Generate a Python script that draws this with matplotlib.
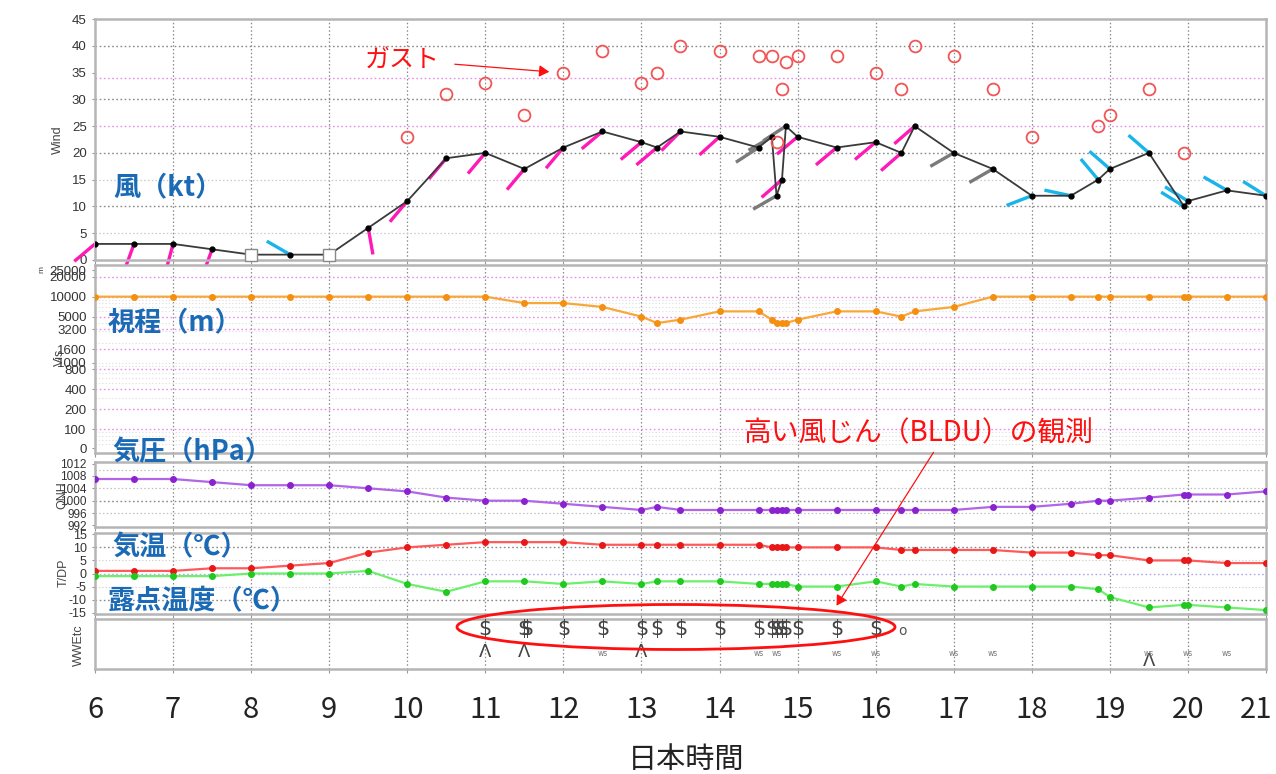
"""METAR time series: wind / visibility / QNH / T-Td / weather, 06-21 JST."""

import numpy as np
import matplotlib

matplotlib.use("Agg")
import matplotlib.pyplot as plt
from matplotlib.patches import Ellipse, FancyArrowPatch
from matplotlib.transforms import ScaledTranslation

plt.rcParams["font.family"] = ["Noto Sans CJK JP", "DejaVu Sans"]
plt.rcParams["axes.unicode_minus"] = False

# ---- observations (hour JST) ----
obs_t = [6, 6.5, 7, 7.5, 8, 8.5, 9, 9.5, 10,
         10.5, 11, 11.5, 12, 12.5, 13, 13.2, 13.5, 14,
         14.5, 14.67, 14.73, 14.8, 14.85, 15,
         15.5, 16, 16.33, 16.5, 17, 17.5, 18,
         18.5, 18.85, 19, 19.5, 19.95, 20, 20.5, 21]
wind_kt = [3, 3, 3, 2, 1, 1, 1, 6, 11,
           19, 20, 17, 21, 24, 22, 21, 24, 23,
           21, 23, 12, 15, 25, 23,
           21, 22, 20, 25, 20, 17, 12,
           12, 15, 17, 20, 10, 11, 13, 12]
# wind direction (deg); nan = calm / variable (open square)
wind_dir = [230, 200, 195, 200, np.nan, 300, np.nan, 170, 220,
            220, 220, 220, 220, 230, 230, 230, 225, 228,
            237, 240, 240, 229, 237, 230,
            230, 230, 229, 229, 240, 240, 249,
            282, 320, 311, 311, 302, 302, 300, 302]
gust_t = [10, 10.5, 11, 11.5, 12, 12.5, 13, 13.2, 13.5, 14, 14.5, 14.67, 14.73, 14.8,
          14.85, 15, 15.5, 16, 16.33, 16.5, 17, 17.5, 18, 18.85, 19, 19.5, 19.95]
gust_kt = [23, 31, 33, 27, 35, 39, 33, 35, 40, 39, 38, 38, 22, 32,
           37, 38, 38, 35, 32, 40, 38, 32, 23, 25, 27, 32, 20]
vis_m = [10000] * 11 + [8000, 8000, 7000, 5000, 4000, 4500, 6000,
                        6000, 4500, 4000, 4000, 4000, 4500,
                        6000, 6000, 5000, 6000, 7000, 10000] + [10000] * 9
qnh = [1007, 1007, 1007, 1006, 1005, 1005, 1005, 1004, 1003,
       1001, 1000, 1000, 999, 998, 997, 998, 997, 997,
       997, 997, 997, 997, 997, 997,
       997, 997, 997, 997, 997, 998, 998,
       999, 1000, 1000, 1001, 1002, 1002, 1002, 1003]
temp = [1, 1, 1, 2, 2, 3, 4, 8, 10,
        11, 12, 12, 12, 11, 11, 11, 11, 11,
        11, 10, 10, 10, 10, 10,
        10, 10, 9, 9, 9, 9, 8,
        8, 7, 7, 5, 5, 5, 4, 4]
dew = [-1, -1, -1, -1, 0, 0, 0, 1, -4,
       -7, -3, -3, -4, -3, -4, -3, -3, -3,
       -4, -4, -4, -4, -4, -5,
       -5, -3, -5, -4, -5, -5, -5,
       -5, -6, -9, -13, -12, -12, -13, -14]
dust_t = [11, 11.5, 11.53, 12, 12.5, 13, 13.2, 13.5, 14, 14.5,
          14.67, 14.73, 14.8, 14.85, 15, 15.5, 16]
haze_t = [16.35]
caret_t = [11, 11.5, 13]
caret_low_t = [19.5]
ws_t = [12.5, 14.5, 14.73, 15.5, 16, 17, 17.5, 19.5, 20, 20.5]
hours = list(range(6, 22))
wind_ticks = list(range(0, 50, 5))
vis_ticks = [52, 100, 200, 400, 800, 1000, 1600, 3200, 5000, 10000, 20000, 25000]
vis_labels = ["0", "100", "200", "400", "800", "1000", "1600", "3200", "5000",
              "10000", "20000", "25000"]
vis_magenta = [100, 200, 400, 800, 1600, 3200, 5000, 10000, 20000]
qnh_ticks = [992, 996, 1000, 1004, 1008, 1012]
td_ticks = [-15, -10, -5, 0, 5, 10, 15]

W, H = 1276, 774
X0, X1 = 95, 1266
BLUE = "#1a6ab5"
RED = "#ff1010"
GRID = "#8a8a8a"
DOT = (0, (1.2, 1.8))
TICKFONT = ["Liberation Sans", "DejaVu Sans"]

fig = plt.figure(figsize=(W / 100, H / 100), dpi=100)


def fp(x, y):
    return (x / W, 1 - y / H)


def panel(top, bottom, ysize=9.5):
    ax = fig.add_axes([X0 / W, 1 - bottom / H, (X1 - X0) / W, (bottom - top) / H])
    ax.set_xlim(6, 21)
    ax.set_xticks(hours)
    ax.tick_params(axis="x", labelbottom=False, length=3, color="#999")
    ax.tick_params(axis="y", labelsize=ysize, labelcolor="#333", length=2, pad=4,
                   color="#999")
    for s in ax.spines.values():
        s.set_color("#b5b5b5")
        s.set_linewidth(1.8)
    for h in hours[1:-1]:
        ax.axvline(h, color=GRID, lw=0.9, ls=DOT, zorder=0)
    return ax


def yfont(ax):
    for lab in ax.get_yticklabels():
        lab.set_family(TICKFONT)


# ---- wind ----
ax = panel(19, 260)
ax.set_ylim(0, 45)
ax.set_yticks(wind_ticks)
yfont(ax)
for v in [10, 20, 30, 40]:
    ax.axhline(v, color=GRID, lw=1.0, ls=DOT, zorder=0)
for v in [5, 15]:
    ax.axhline(v, color="#c8c8c8", lw=0.9, ls=DOT, zorder=0)
for v in [25, 34]:
    ax.axhline(v, color="#e890e8", lw=1.0, ls=DOT, zorder=0)

pos = ax.get_position()
ppx = pos.width * W / 15
ppy = pos.height * H / 45
L = 27
t_arr = np.array(obs_t, float)
k_arr = np.array(wind_kt, float)
d_arr = np.array(wind_dir, float)
for t, v, d in zip(t_arr, k_arr, d_arr):
    if np.isnan(d):
        continue
    c = "#ff1ab8" if d < 235 else ("#7a7a7a" if d < 245 else "#18b4ea")
    r = np.radians(d)
    ax.plot([t, t + L * np.sin(r) / ppx], [v, v + L * np.cos(r) / ppy],
            color=c, lw=2.4, solid_capstyle="butt", clip_on=False, zorder=2)
ax.plot(t_arr, k_arr, color="#3a3a3a", lw=1.3, zorder=3)
calm = np.isnan(d_arr)
ax.plot(t_arr[~calm], k_arr[~calm], "o", color="black", ms=3.5, zorder=4)
ax.plot(t_arr[calm], k_arr[calm], "s", mfc="white", mec="#888", mew=1.0, ms=9,
        zorder=4, clip_on=False)
ax.plot(gust_t, gust_kt, "o", mfc="none", mec="#f25555", mew=1.3, ms=8.5, zorder=4)

# ---- visibility ----
ax = panel(265, 453)
ax.set_yscale("log")
ax.set_ylim(44, 30000)
ax.set_yticks(vis_ticks)
ax.set_yticklabels(vis_labels)
ax.yaxis.set_minor_locator(matplotlib.ticker.NullLocator())
yfont(ax)
for dec in [10, 100, 1000, 10000]:
    for m in range(1, 10):
        v = dec * m
        if 50 < v < 30000 and v not in vis_magenta:
            ax.axhline(v, color="#e2e2e2", lw=0.8, ls=DOT, zorder=0)
for v in vis_magenta:
    ax.axhline(v, color="#e890e8", lw=1.0, ls=DOT, zorder=0)
ax.plot(obs_t, vis_m, color="#f8a838", lw=1.6, zorder=3)
ax.plot(obs_t, vis_m, "o", color="#f39012", ms=4, zorder=4)

# ---- QNH ----
ax = panel(462, 527, ysize=8.5)
ax.set_ylim(991.5, 1012.5)
ax.set_yticks(qnh_ticks)
yfont(ax)
for v in [1010, 1004, 996]:
    ax.axhline(v, color="#c0c0c0", lw=0.9, ls=DOT, zorder=0)
ax.axhline(1000, color=GRID, lw=1.0, ls=DOT, zorder=0)
ax.plot(obs_t, qnh, color="#b066e6", lw=1.6, zorder=3)
ax.plot(obs_t, qnh, "o", color="#8a22d0", ms=4, zorder=4)

# ---- T / DP ----
ax = panel(533, 614, ysize=9)
ax.set_ylim(-15.5, 15.5)
ax.set_yticks(td_ticks)
yfont(ax)
for v in [10, -10]:
    ax.axhline(v, color=GRID, lw=1.0, ls=DOT, zorder=0)
for v in [5, -5]:
    ax.axhline(v, color="#d0d0d0", lw=0.8, ls=DOT, zorder=0)
ax.axhline(0, color="#b0a8ee", lw=1.0, ls=DOT, zorder=0)
ax.plot(obs_t, temp, color="#ff5a5a", lw=1.6, zorder=3)
ax.plot(obs_t, temp, "o", color="#e81818", ms=4, zorder=4)
ax.plot(obs_t, dew, color="#6cf06c", lw=1.6, zorder=3)
ax.plot(obs_t, dew, "o", color="#20c820", ms=4, zorder=4)

# ---- weather ----
ax = panel(619, 669)
ax.set_ylim(0, 1)
ax.set_yticks([])
ax.tick_params(axis="x", labelbottom=True, labelsize=21, labelcolor="#222",
               pad=16, length=3)
last = ax.get_xticklabels()[-1]
last.set_transform(last.get_transform() + ScaledTranslation(-10 / 100, 0, fig.dpi_scale_trans))
for t in dust_t:
    ax.text(t, 0.8, "$", ha="center", va="center", fontsize=15, color="#444",
            family="DejaVu Sans")
for t in haze_t:
    ax.text(t, 0.76, "o", ha="center", va="center", fontsize=10, color="#555",
            family="DejaVu Sans")
for t in caret_t:
    ax.text(t, 0.34, "Λ", ha="center", va="center", fontsize=13, color="#444",
            family="DejaVu Sans")
for t in caret_low_t:
    ax.text(t, 0.16, "Λ", ha="center", va="center", fontsize=13, color="#444",
            family="DejaVu Sans")
for t in ws_t:
    ax.text(t, 0.32, "ws", ha="center", va="center", fontsize=5.5, color="#777",
            family="DejaVu Sans")

# ---- axis names ----
for name, x, y in [("Wind", 58, 140), ("Vis", 60, 357), ("QNH", 62, 495),
                   ("T/DP", 64, 573), ("WWEtc", 79, 645)]:
    fig.text(*fp(x, y), name, rotation=90, ha="center", va="center", fontsize=9,
             color="#444", family=TICKFONT)
fig.text(*fp(42, 270), "m", rotation=90, ha="center", va="center", fontsize=6,
         color="#444", family=TICKFONT)

fig.text(*fp(686, 760), "日本時間", ha="center", va="center", fontsize=21, color="#222")

# ---- overlays ----
for txt, x, y in [("風（kt）", 113, 187), ("視程（m）", 108, 322),
                  ("気圧（hPa）", 112, 452), ("気温（℃）", 112, 547),
                  ("露点温度（℃）", 108, 601)]:
    fig.text(*fp(x, y), txt, ha="left", va="center", fontsize=19.5,
             fontweight="bold", color=BLUE)

fig.text(*fp(402, 60), "ガスト", ha="center", va="center", fontsize=18, color=RED)
fig.add_artist(FancyArrowPatch(fp(452, 64), fp(552, 72), transform=fig.transFigure,
                               arrowstyle="-|>,head_length=6,head_width=3.5",
                               color=RED, lw=0.9))
fig.text(*fp(918, 433), "高い風じん（BLDU）の観測", ha="center", va="center",
         fontsize=20, color=RED)
fig.add_artist(FancyArrowPatch(fp(935, 450), fp(835, 608), transform=fig.transFigure,
                               arrowstyle="-|>,head_length=6,head_width=3.5",
                               color=RED, lw=0.9))
fig.add_artist(Ellipse(fp(676, 627), 438 / W, 45 / H, transform=fig.transFigure,
                       fill=False, edgecolor=RED, lw=2.0))

fig.savefig("out.png", dpi=100)
